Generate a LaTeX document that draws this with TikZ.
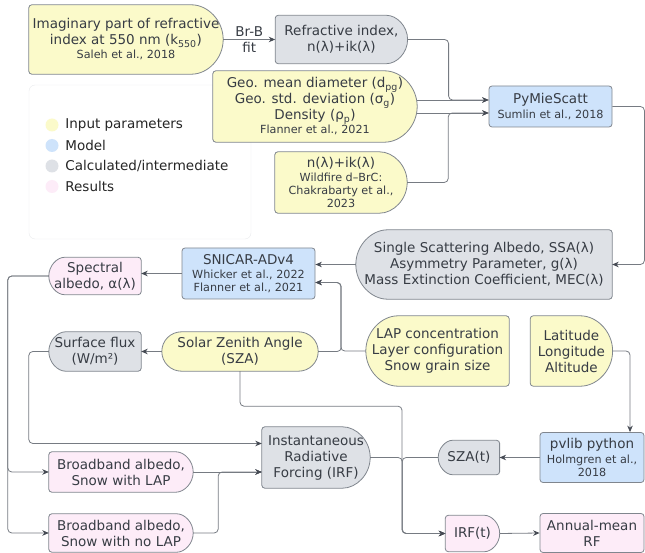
\documentclass[tikz,border=0pt]{standalone}
\usepackage{fontspec}
\setmainfont{DejaVu Sans}
\usetikzlibrary{
  arrows.meta,
  positioning,
  calc,
  backgrounds
}
\definecolor{input_yellow}{RGB}{251,250,202}
\definecolor{model_blue}{RGB}{206,227,251}
\definecolor{calc_gray}{RGB}{222,225,230}
\definecolor{result_pink}{RGB}{253,236,248}
\definecolor{edge_gray}{RGB}{128,134,142}
\definecolor{wire_gray}{RGB}{118,123,130}
\definecolor{tip_dark}{RGB}{70,75,84}
\definecolor{text_dark}{RGB}{55,60,68}
\definecolor{legend_line}{RGB}{233,234,237}
\newcommand{\srcfont}{\fontsize{11.2}{13}\selectfont}

% half-round outlines, drawn behind a plain node
\newcommand{\roundeast}[2]{%
  \draw[shape_line, fill=#2] let \p1=(#1.south west), \p2=(#1.north east), \n1={(\y2-\y1)/2} in
    [rounded corners=3pt] (\p1) -- (\x1,\y2) -- (\x2-\n1,\y2)
    arc[start angle=90, end angle=-90, radius=\n1] -- cycle;}
\newcommand{\roundwest}[2]{%
  \draw[shape_line, fill=#2] let \p1=(#1.south west), \p2=(#1.north east), \n1={(\y2-\y1)/2} in
    [rounded corners=3pt] (\p2) -- (\x2,\y1) -- (\x1+\n1,\y1)
    arc[start angle=-90, end angle=-270, radius=\n1] -- cycle;}
\newcommand{\roundboth}[2]{%
  \draw[shape_line, fill=#2] let \p1=(#1.south west), \p2=(#1.north east), \n1={(\y2-\y1)/2} in
    (\x1+\n1,\y2) -- (\x2-\n1,\y2)
    arc[start angle=90, end angle=-90, radius=\n1] -- (\x1+\n1,\y1)
    arc[start angle=-90, end angle=-270, radius=\n1] -- cycle;}

\begin{document}
\begin{tikzpicture}[
    x=1pt, y=1pt,
    font=\fontsize{13.5}{16}\selectfont,
    text=text_dark,
    % Styles
    plain_node/.style={rectangle, align=center, inner sep=1pt},
    model_box/.style={plain_node, draw=edge_gray, fill=model_blue, rounded corners=3pt, line width=0.8pt},
    result_box/.style={plain_node, draw=edge_gray, fill=result_pink, rounded corners=3pt, line width=0.8pt},
    shape_line/.style={draw=edge_gray, line width=0.8pt},
    wire/.style={draw=wire_gray, line width=0.8pt, rounded corners=4pt, -{Stealth[length=6.5pt,width=5.5pt,color=tip_dark]}},
    key_dot/.style={circle, minimum size=13pt, inner sep=0pt},
    key_text/.style={anchor=west, inner sep=0pt, text=black!85}
]
\useasboundingbox (0,0) rectangle (645,-553);

% 1. Optical inputs
\node[plain_node, minimum width=194pt, minimum height=69pt] (imag) at (126,-39.5) {
    Imaginary part of refractive\\
    index at 550 nm (k\textsubscript{550})\\[-2pt]
    \srcfont Saleh et al., 2018
};
\node[plain_node, minimum width=132pt, minimum height=48pt, right=52pt of imag] (refr) {
    Refractive index,\\
    n(λ)+ik(λ)
};
\node[plain_node, minimum width=204pt, minimum height=71pt] (geo) at (315,-106.5) {
    Geo. mean diameter (d\textsubscript{pg})\\
    Geo. std. deviation (σ\textsubscript{g})\\
    Density (ρ\textsubscript{p})\\[-2pt]
    \srcfont Flanner et al., 2021
};
\node[plain_node, minimum width=132pt, minimum height=61pt] (nlam) at (341,-182.5) {
    n(λ)+ik(λ)\\[-2pt]
    \srcfont Wildfire d–BrC:\\[-3pt]
    \srcfont Chakrabarty et al.,\\[-3pt]
    \srcfont 2023
};
\node[model_box, minimum width=123pt, minimum height=41pt] (pymie) at (550.5,-106.5) {
    PyMieScatt\\[-1pt]
    \srcfont Sumlin et al., 2018
};

% 2. Snow model
\node[plain_node, minimum width=256pt, minimum height=69pt] (ssa) at (484,-264.5) {
    Single Scattering Albedo, SSA(λ)\\
    Asymmetry Parameter, g(λ)\\
    Mass Extinction Coefficient, MEC(λ)
};
\node[model_box, minimum width=133pt, minimum height=51pt] (snicar) at (248.5,-273.5) {
    SNICAR-ADv4\\[-2pt]
    \srcfont Whicker et al., 2022\\[-3pt]
    \srcfont Flanner et al., 2021
};
\node[plain_node, minimum width=92pt, minimum height=37pt] (spectral) at (95,-276) {
    Spectral\\
    albedo, α(λ)
};
\node[plain_node, minimum width=92pt, minimum height=39pt] (surf) at (95,-351.5) {
    Surface flux\\
    (W/m²)
};
\node[plain_node, minimum width=156pt, minimum height=39pt] (sza) at (240,-351.5) {
    Solar Zenith Angle\\
    (SZA)
};
\node[plain_node, minimum width=143pt, minimum height=70pt] (lap) at (437.5,-351) {
    LAP concentration\\
    Layer configuration\\
    Snow grain size
};
\node[plain_node, minimum width=82pt, minimum height=70pt, right=21pt of lap] (lat) {
    Latitude\\
    Longitude\\
    Altitude
};

% 3. Forcing
\node[plain_node, minimum width=108pt, minimum height=61pt] (irf) at (316,-457.5) {
    Instantaneous\\
    Radiative\\
    Forcing (IRF)
};
\node[plain_node, minimum width=144pt, minimum height=40pt] (bbl) at (121,-472) {
    Broadband albedo,\\
    Snow with LAP
};
\node[plain_node, minimum width=144pt, minimum height=38pt] (bbn) at (121,-533) {
    Broadband albedo,\\
    Snow with no LAP
};
\node[model_box, minimum width=104pt, minimum height=50pt] (pvlib) at (592,-457.5) {
    pvlib python\\[-1pt]
    \srcfont Holmgren et al.,\\[-3pt]
    \srcfont 2018
};
\node[plain_node, minimum width=61pt, minimum height=34pt, left=40pt of pvlib] (szat) {SZA(t)};
\node[plain_node, minimum width=54pt, minimum height=36pt] (irft) at (472.5,-533.5) {IRF(t)};
\node[result_box, minimum width=104pt, minimum height=39pt] (annual) at (592,-533) {
    Annual-mean\\
    RF
};

% 4. Legend
\node[key_dot, fill=input_yellow] (key_in) at (52,-125) {};
\node[key_text, right=6.5pt of key_in] (key_in_lbl) {Input parameters};
\node[key_dot, fill=model_blue] (key_model) at (52,-145.5) {};
\node[key_text, right=6.5pt of key_model] (key_model_lbl) {Model};
\node[key_dot, fill=calc_gray] (key_calc) at (52,-166) {};
\node[key_text, right=6.5pt of key_calc] (key_calc_lbl) {Calculated/intermediate};
\node[key_dot, fill=result_pink] (key_res) at (52,-186.5) {};
\node[key_text, right=6.5pt of key_res] (key_res_lbl) {Results};

% Outlines behind the text
\begin{scope}[on background layer]
    \node[draw=legend_line, fill=white, rounded corners=6pt, minimum width=222pt, minimum height=154pt] (legend) at (140,-162) {};
    \roundeast{imag}{input_yellow}
    \roundeast{refr}{calc_gray}
    \roundeast{geo}{input_yellow}
    \roundeast{nlam}{input_yellow}
    \roundwest{ssa}{calc_gray}
    \roundwest{spectral}{result_pink}
    \roundwest{surf}{calc_gray}
    \roundboth{sza}{input_yellow}
    \roundwest{lap}{input_yellow}
    \roundeast{lat}{input_yellow}
    \roundeast{irf}{calc_gray}
    \roundeast{bbl}{result_pink}
    \roundeast{bbn}{result_pink}
    \roundwest{szat}{calc_gray}
    \roundeast{irft}{result_pink}
\end{scope}

% --- Connections ---
\draw[wire] (imag.east) -- (imag.east -| refr.west) node[midway, align=center] (brb) {Br-B\\fit};
\draw[wire] (refr.east) -- ++(41,0) |- ([yshift=6.5pt]pymie.west);
\draw[wire] ([yshift=6.5pt]geo.east) -- ([yshift=6.5pt]pymie.west);
\draw[wire] ([yshift=-6.5pt]geo.east) -- ([yshift=-6.5pt]pymie.west);
\draw[wire] (nlam.east) -- ++(41,0) |- ([yshift=-6.5pt]pymie.west);
\draw[wire] (pymie.east) -- ++(32,0) |- (ssa.east);

\draw[wire] (ssa.west) -- (ssa.west -| snicar.east);
\draw[wire] (lap.west) -- ++(-25,0) |- ([yshift=-9pt]snicar.east);
\draw[wire] (sza.east) -- ++(23,0) |- ([yshift=-9pt]snicar.east);
\draw[wire] (snicar.west) -- (snicar.west -| spectral.east);
\draw[wire] (sza.west) -- (surf.east);

\draw[wire] (spectral.west) -- ++(-41,0) |- (bbl.west);
\draw[wire] (spectral.west) -- ++(-41,0) |- (bbn.west);
\draw[wire] (surf.west) -- ++(-20,0) |- ([yshift=14pt]irf.west);
\draw[wire] (bbl.east) -- (bbl.east -| irf.west);
\draw[wire] (bbn.east) -- ++(25,0) |- ([yshift=-14.5pt]irf.west);

\draw[wire] (sza.south) -- ++(0,-35) -- ++(162,0) |- (irft.west);
\draw[wire] (irf.east) -- ++(32,0) |- (irft.west);
\draw[wire] (szat.west) -- ++(-36,0) |- (irft.west);
\draw[wire] (lat.east) -| ([xshift=38pt]pvlib.north);
\draw[wire] (pvlib.west) -- (szat.east);
\draw[wire] (irft.east) -- (annual.west);

\end{tikzpicture}
\end{document}
